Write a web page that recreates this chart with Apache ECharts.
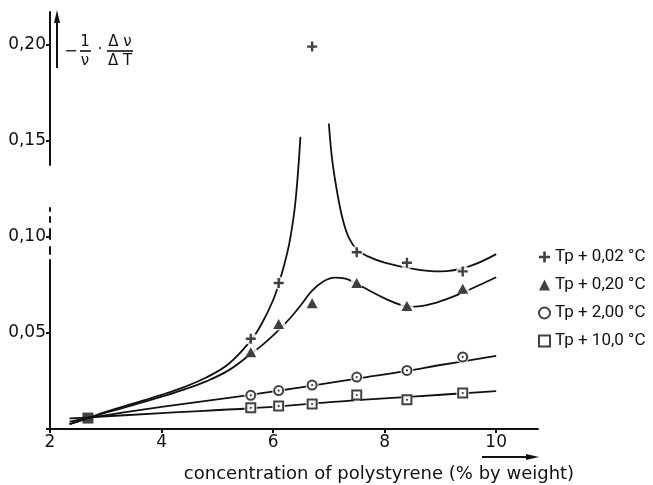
<!DOCTYPE html>
<html>
<head>
<meta charset="utf-8">
<script src="https://cdn.jsdelivr.net/npm/echarts@6/dist/echarts.min.js"></script>
<style>
  html, body { margin: 0; padding: 0; background: #fff; }
  #chart { width: 653px; height: 485px; }
</style>
</head>
<body>
<div id="chart"></div>
<script>
// Measured concentrations (% by weight of polystyrene)
const concentrations = [5.6, 6.1, 6.7, 7.5, 8.4, 9.4];

// -(1/nu)·(dnu/dT) at each concentration, for four temperature offsets above Tp
const valuesTp002 = [0.047, 0.076, 0.199, 0.092, 0.0865, 0.082];
const valuesTp020 = [0.040, 0.0547, 0.0655, 0.076, 0.064, 0.073];
const valuesTp200 = [0.0175, 0.0200, 0.0229, 0.027, 0.0305, 0.0375];
const valuesTp100 = [0.0110, 0.0120, 0.0130, 0.0177, 0.0152, 0.0187];

// Point shared by all four series
const commonPoint = [2.68, 0.0057];

const seriesNames = ['Tp + 0,02 °C', 'Tp + 0,20 °C', 'Tp + 2,00 °C', 'Tp + 10,0 °C'];

// Hand-drawn guide curves through the measurements
const curveTp002Left = [[2.35,0.0025],[2.68,0.0057],[3,0.0089],[3.5,0.0133],[4,0.0178],[4.4,0.0218],[4.8,0.0268],[5.2,0.0338],[5.6,0.046],[5.8,0.055],[6.0,0.067],[6.1,0.0755],[6.2,0.0855],[6.3,0.098],[6.4,0.118],[6.49,0.152]];
const curveTp002Right = [[7.0,0.159],[7.06,0.140],[7.15,0.123],[7.25,0.109],[7.36,0.0995],[7.5,0.0935],[7.7,0.0898],[8.0,0.0866],[8.5,0.0834],[9.0,0.082],[9.5,0.0845],[10,0.091]];
const curveTp020 = [[2.35,0.0025],[2.68,0.0057],[3,0.0085],[3.5,0.0125],[4,0.0168],[4.4,0.0205],[4.8,0.0248],[5.2,0.0305],[5.6,0.039],[5.8,0.0435],[6.05,0.050],[6.3,0.0575],[6.5,0.0645],[6.7,0.072],[6.9,0.0768],[7.1,0.0788],[7.3,0.0782],[7.5,0.0755],[7.7,0.0725],[8.0,0.068],[8.3,0.0645],[8.55,0.0637],[8.8,0.0648],[9.1,0.0675],[9.4,0.071],[10,0.079]];
const curveTp200 = [[2.35,0.0038],[2.68,0.0057],[4,0.0115],[5.6,0.0178],[6.7,0.0226],[7.5,0.0262],[8.4,0.0302],[9.0,0.0333],[10,0.038]];
const curveTp100 = [[2.35,0.0055],[2.68,0.006],[4,0.0083],[5.6,0.0108],[6.7,0.0132],[7.5,0.015],[8.5,0.0168],[9.4,0.0186],[10,0.0197]];

const FONT = 'DejaVu Sans';
const INK = '#111';

const pairs = vals => concentrations.map((c, i) => [c, vals[i]]);

const curve = data => ({
  type: 'line', data, smooth: 0.4, showSymbol: false, silent: true, z: 2,
  lineStyle: { color: INK, width: 1.8 }
});

// white halo that interrupts the curves around each open marker
const halo = vals => ({
  type: 'scatter', data: pairs(vals), symbol: 'circle', symbolSize: 13, silent: true, z: 3,
  itemStyle: { color: '#fff' }
});

const centerDot = vals => ({
  type: 'scatter', data: pairs(vals), symbol: 'circle', symbolSize: 2.2, silent: true, z: 6,
  itemStyle: { color: INK }
});

const plusPath = 'path://M3.8,0H6.2V3.8H10V6.2H6.2V10H3.8V6.2H0V3.8H3.8Z';

const chart = echarts.init(document.getElementById('chart'));
chart.setOption({
  animation: false,
  backgroundColor: '#fff',
  grid: { left: 50, right: 115, top: 12, bottom: 56 },
  xAxis: {
    type: 'value', min: 2, max: 10.75, interval: 2,
    axisLine: { lineStyle: { color: INK, width: 2 } },
    axisTick: { length: 4, lineStyle: { color: INK, width: 2 } },
    axisLabel: { color: INK, fontFamily: FONT, fontSize: 17, margin: 5, showMaxLabel: false },
    splitLine: { show: false }
  },
  yAxis: {
    type: 'value', min: 0, max: 0.217, interval: 0.05,
    axisLine: { show: true, lineStyle: { color: INK, width: 2,
      // broken axis around 0,10, drawn from the origin upward
      type: [169, 6, 7, 8, 10, 7, 5, 6, 3, 43, 220] } },
    axisTick: { show: true, length: 4, lineStyle: { color: INK, width: 2 } },
    axisLabel: { color: INK, fontFamily: FONT, fontSize: 17, margin: 4, showMaxLabel: false,
      formatter: v => (v === 0 || v > 0.21) ? '' : v.toFixed(2).replace('.', ',') },
    splitLine: { show: false }
  },
  legend: {
    orient: 'vertical', left: 533, top: 243, itemGap: 10, itemWidth: 11, itemHeight: 11,
    textStyle: { color: INK, fontFamily: 'Roboto', fontSize: 17, lineHeight: 18 },
    data: seriesNames
  },
  series: [
    curve(curveTp002Left),
    curve(curveTp002Right),
    curve(curveTp020),
    curve(curveTp200),
    curve(curveTp100),
    halo(valuesTp002), halo(valuesTp020), halo(valuesTp200), halo(valuesTp100),
    { name: seriesNames[0], type: 'scatter', data: pairs(valuesTp002), symbol: plusPath, symbolSize: 10, z: 5,
      itemStyle: { color: INK } },
    { name: seriesNames[1], type: 'scatter', data: pairs(valuesTp020), symbol: 'triangle', symbolSize: [11, 10], z: 5,
      itemStyle: { color: INK } },
    { name: seriesNames[2], type: 'scatter', data: pairs(valuesTp200), symbol: 'circle', symbolSize: 9, z: 5,
      itemStyle: { color: '#fff', borderColor: INK, borderWidth: 2 } },
    { name: seriesNames[3], type: 'scatter', data: pairs(valuesTp100), symbol: 'rect', symbolSize: 9, z: 5,
      itemStyle: { color: '#fff', borderColor: INK, borderWidth: 2 } },
    centerDot(valuesTp200), centerDot(valuesTp100),
    { type: 'scatter', data: [commonPoint], symbol: 'rect', symbolSize: 11, z: 5, silent: true,
      itemStyle: { color: INK } }
  ],
  graphic: [
    // upward arrow beside the y axis
    { type: 'line', shape: { x1: 57, y1: 68, x2: 57, y2: 20 }, style: { stroke: INK, lineWidth: 2 } },
    { type: 'polygon', shape: { points: [[57, 10], [54, 23], [60, 23]] }, style: { fill: INK } },
    // y quantity: -(1/nu)·(Δnu/ΔT)
    { type: 'text', x: 71, y: 52, style: { text: '−', font: '16px ' + FONT, fill: INK, textAlign: 'center', textVerticalAlign: 'middle' } },
    { type: 'text', x: 85, y: 42, style: { text: '1', font: '15px ' + FONT, fill: INK, textAlign: 'center', textVerticalAlign: 'middle' } },
    { type: 'line', shape: { x1: 80, y1: 51, x2: 91, y2: 51 }, style: { stroke: INK, lineWidth: 1.6 } },
    { type: 'text', x: 85, y: 61, style: { text: 'ν', font: '15px ' + FONT, fill: INK, textAlign: 'center', textVerticalAlign: 'middle' } },
    { type: 'text', x: 100, y: 50, style: { text: '·', font: '15px ' + FONT, fill: INK, textAlign: 'center', textVerticalAlign: 'middle' } },
    { type: 'text', x: 120, y: 42, style: { text: 'Δ ν', font: '15px ' + FONT, fill: INK, textAlign: 'center', textVerticalAlign: 'middle' } },
    { type: 'line', shape: { x1: 107, y1: 51, x2: 133, y2: 51 }, style: { stroke: INK, lineWidth: 1.6 } },
    { type: 'text', x: 120, y: 61, style: { text: 'Δ T', font: '15px ' + FONT, fill: INK, textAlign: 'center', textVerticalAlign: 'middle' } },
    // x quantity and its arrow
    { type: 'line', shape: { x1: 482, y1: 457, x2: 528, y2: 457 }, style: { stroke: INK, lineWidth: 2 } },
    { type: 'polygon', shape: { points: [[539, 457], [526, 454], [526, 460]] }, style: { fill: INK } },
    { type: 'text', x: 379, y: 474, style: { text: 'concentration of polystyrene (% by weight)', font: '18px ' + FONT, fill: INK, textAlign: 'center', textVerticalAlign: 'middle' } }
  ]
});
</script>
</body>
</html>
